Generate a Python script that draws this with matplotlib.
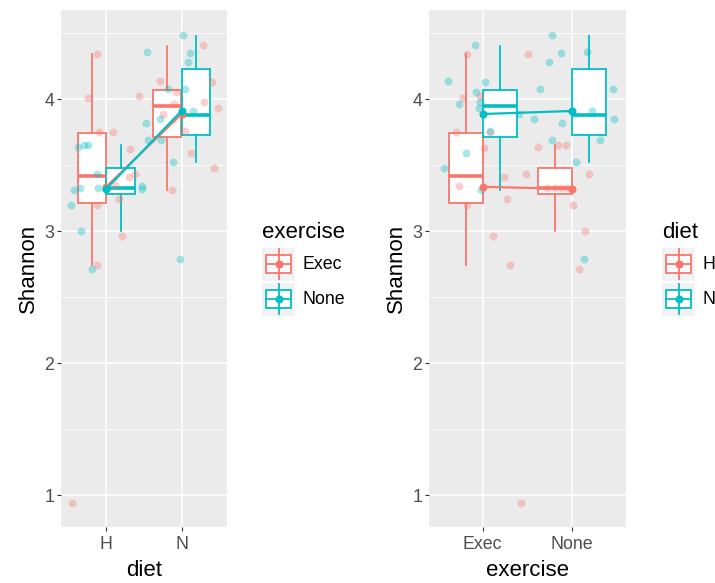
import matplotlib
matplotlib.use("Agg")
import matplotlib.pyplot as plt
from matplotlib.patches import Rectangle

plt.rcParams['font.family'] = ['Liberation Sans', 'DejaVu Sans']

# --- data ---
diets = ['H', 'N']
exercises = ['Exec', 'None']

# box stats, indexed [diet][exercise]
box_lo = [[2.74, 3.00], [3.31, 3.525]]
box_q1 = [[3.21, 3.28], [3.715, 3.725]]
box_med = [[3.42, 3.325], [3.945, 3.88]]
box_q3 = [[3.745, 3.48], [4.066, 4.225]]
box_hi = [[4.34, 3.65], [4.40, 4.48]]

# group means [diet][exercise]
means = [[3.335, 3.32], [3.887, 3.91]]

# jittered points, left panel (x = diet), colour = exercise
left_exec_x = [0.876, 0.764, 0.91, 1.089, 1.31, 1.387, 1.30, 1.12, 1.17, 0.884, 1.21, 0.876, 0.55,
               1.44, 1.72, 1.93, 1.90, 1.756, 2.29, 2.40, 2.30, 2.49, 2.05, 2.12, 2.43, 1.876]
left_exec_y = [4.34, 4.01, 3.75, 3.75, 3.62, 3.43, 3.41, 3.35, 3.24, 3.20, 2.96, 2.74, 0.94,
               4.02, 4.14, 4.05, 3.96, 3.89, 4.41, 4.13, 3.98, 3.93, 3.76, 3.59, 3.48, 3.31]
left_none_x = [0.63, 0.71, 0.756, 0.884, 0.653, 0.577, 0.889, 0.53, 0.667, 0.817, 1.48, 1.48, 1.53,
               1.56, 1.54, 1.82, 1.71, 1.73, 1.89, 1.98, 2.02, 2.11, 2.08, 2.05, 2.15]
left_none_y = [3.64, 3.65, 3.65, 3.43, 3.33, 3.31, 3.33, 3.195, 3.00, 2.71, 3.34, 3.32, 3.82,
               3.69, 4.36, 4.08, 3.85, 3.69, 3.525, 2.79, 4.485, 4.35, 4.28, 4.08, 3.91]

# jittered points, right panel (x = exercise), colour = diet
right_h_x = [0.82, 0.777, 0.974, 0.70, 1.08, 1.01, 0.73, 0.82, 1.24, 1.27, 1.12, 1.30, 1.43,
             1.48, 1.50, 1.62, 1.84, 1.93, 1.72, 1.81, 1.87, 1.94, 2.01, 2.19, 2.14, 2.08]
right_h_y = [4.34, 4.01, 4.02, 3.75, 3.75, 3.63, 3.34, 3.20, 3.41, 3.24, 2.965, 2.74, 0.937,
             3.43, 4.34, 3.64, 3.655, 3.655, 3.33, 3.33, 3.33, 3.33, 3.20, 3.43, 3.00, 2.71]
right_n_x = [0.91, 0.61, 1.02, 0.93, 0.97, 0.955, 0.74, 1.08, 0.815, 0.565, 0.98, 1.40, 1.57,
             1.64, 1.74, 1.87, 1.77, 2.16, 2.45, 2.47, 2.22, 1.88, 1.77, 2.31, 2.04, 2.13]
right_n_y = [4.41, 4.14, 4.13, 4.05, 3.98, 3.93, 3.96, 3.76, 3.59, 3.48, 3.31, 3.89, 3.85,
             4.08, 4.28, 4.35, 4.485, 4.36, 4.08, 3.85, 3.91, 3.82, 3.69, 3.69, 3.525, 2.79]

RED = '#F8766D'
CYAN = '#00BFC4'
W, H = 715, 583

fig = plt.figure(figsize=(W / 100, H / 100), dpi=100)


def ggaxes(x0, x1, y0, y1):
    ax = fig.add_axes([x0 / W, 1 - y1 / H, (x1 - x0) / W, (y1 - y0) / H])
    ax.set_facecolor('#EBEBEB')
    for s in ax.spines.values():
        s.set_visible(False)
    ax.set_xlim(0.4, 2.6)
    ax.set_ylim(0.76, 4.675)
    ax.set_yticks([1, 2, 3, 4])
    ax.set_yticks([1.5, 2.5, 3.5, 4.5], minor=True)
    ax.set_xticks([1, 2])
    ax.grid(True, which='major', color='white', lw=1.1)
    ax.grid(True, which='minor', axis='y', color='white', lw=0.55)
    ax.set_axisbelow(True)
    ax.tick_params(which='major', length=3, width=0.8, color='#333333',
                   labelcolor='#4D4D4D', labelsize=12.8, pad=2)
    ax.tick_params(axis='x', which='major', pad=4)
    ax.tick_params(which='minor', length=0)
    ax.set_ylabel('Shannon', fontsize=16, labelpad=4)
    return ax


def draw_panel(ax, by_diet_x, colors, px, py, xlabel, xticks):
    # by_diet_x True: x is diet, colour is exercise
    for ci in range(2):
        stats = []
        pos = []
        for xi in range(2):
            d, e = (xi, ci) if by_diet_x else (ci, xi)
            stats.append(dict(whislo=box_lo[d][e], q1=box_q1[d][e], med=box_med[d][e],
                              q3=box_q3[d][e], whishi=box_hi[d][e], fliers=[]))
            pos.append(xi + 1 + (-0.19 if ci == 0 else 0.19))
        c = colors[ci]
        ax.bxp(stats, positions=pos, widths=0.375, patch_artist=True, showcaps=False,
               showfliers=False,
               boxprops=dict(facecolor='white', edgecolor=c, lw=1.3),
               whiskerprops=dict(color=c, lw=1.3),
               medianprops=dict(color=c, lw=2.6),
               manage_ticks=False, zorder=2)
    for ci in range(2):
        ax.scatter(px[ci], py[ci], s=32, color=colors[ci], alpha=0.35, lw=0, zorder=3)
    for ci in range(2):
        if by_diet_x:
            m = [means[0][ci], means[1][ci]]
        else:
            m = [means[ci][0], means[ci][1]]
        ax.plot([1, 2], m, color=colors[ci], lw=1.6, marker='o', ms=4.8, zorder=4)
    ax.set_xticklabels(xticks)
    ax.set_xlabel(xlabel, fontsize=16, labelpad=5)


axL = ggaxes(61, 226.7, 10, 526.7)
draw_panel(axL, True, [RED, CYAN], [left_exec_x, left_none_x], [left_exec_y, left_none_y],
           'diet', diets)
axR = ggaxes(429, 626, 10, 526.7)
draw_panel(axR, False, [RED, CYAN], [right_h_x, right_n_x], [right_h_y, right_n_y],
           'exercise', exercises)


def legend(x0, title, labels):
    fig.text(x0 / W, 1 - 238 / H, title, fontsize=16, ha='left', va='baseline')
    for i, (lab, c) in enumerate(zip(labels, [RED, CYAN])):
        y0 = 247.7 + i * 35
        k = fig.add_axes([x0 / W, 1 - (y0 + 33.3) / H, 33 / W, 33.3 / H])
        k.set_facecolor('#F2F2F2')
        k.set_xlim(0, 1)
        k.set_ylim(0, 1)
        k.set_xticks([])
        k.set_yticks([])
        for s in k.spines.values():
            s.set_visible(False)
        k.plot([0.5, 0.5], [0.05, 0.95], color=c, lw=1.3)
        k.add_patch(Rectangle((0.13, 0.23), 0.74, 0.54, facecolor='white', edgecolor=c, lw=1.3))
        k.plot([0.13, 0.87], [0.5, 0.5], color=c, lw=1.3)
        k.plot([0.5], [0.5], marker='o', ms=4.8, color=c)
        fig.text((x0 + 40) / W, 1 - (y0 + 17) / H, lab, fontsize=12.8, ha='left', va='center')


legend(262, 'exercise', exercises)
legend(662, 'diet', diets)

fig.savefig('out.png', dpi=100)
